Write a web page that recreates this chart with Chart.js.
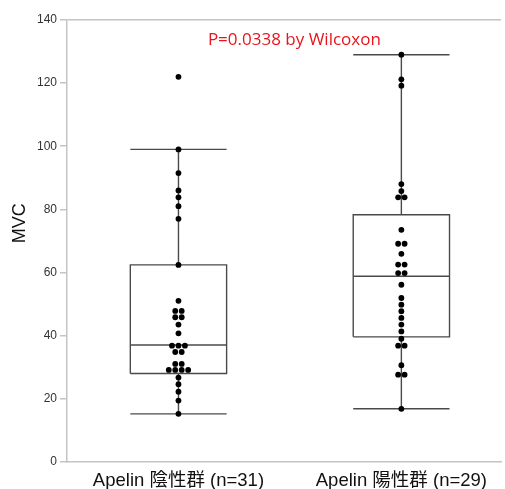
<!DOCTYPE html>
<html>
<head>
<meta charset="utf-8">
<script src="https://cdn.jsdelivr.net/npm/chart.js@4.4.1/dist/chart.umd.min.js"></script>
<style>
  html, body { margin: 0; padding: 0; background: #fff; }
  #wrap { width: 505px; height: 489px; }
</style>
</head>
<body>
<div id="wrap"><canvas id="boxChart"></canvas></div>
<script>
// groups
const groupLabels = ["Apelin 陰性群 (n=31)", "Apelin 陽性群 (n=29)"];
const groupPos = [0.5, 1.5];

// MVC values
const negValues = [122, 99, 91.5, 86, 83.8, 81, 77, 62.4, 51, 47.8, 47.8, 45.8, 45.8,
  43.5, 40.7, 36.8, 36.8, 36.8, 34.8, 34.8, 31, 31, 29.1, 29.1, 29.1, 29.1,
  26.7, 24.6, 22.2, 19.4, 15.2];
const posValues = [129, 121.2, 119.2, 88, 85.8, 83.8, 83.8, 73.5, 69.1, 69.1, 65.9,
  62.5, 62.5, 59.8, 59.8, 56.1, 51.9, 49.8, 47.7, 45.6, 43.5, 41.3, 39, 36.8, 36.8,
  30.6, 27.6, 27.6, 16.8];

// box stats [lower whisker, q1, median, q3, upper whisker]
const negStats = [15.2, 28, 37, 62.4, 99];
const posStats = [16.8, 39.6, 58.8, 78.3, 129];

const yTicks = [0, 20, 40, 60, 80, 100, 120, 140];
const yTitle = "MVC";
const pText = "P=0.0338 by Wilcoxon";

const BOX_HALF = 0.216;
const DOT_STEP = 0.029;
const LINE = "#4a4a4a";
const FRAME = "#c4c4c4";

// stack equal values side by side
function swarm(values, center) {
  const counts = {};
  values.forEach(v => { counts[v] = (counts[v] || 0) + 1; });
  const seen = {};
  return values.map(v => {
    const i = seen[v] || 0;
    seen[v] = i + 1;
    return { x: center + (i - (counts[v] - 1) / 2) * DOT_STEP, y: v };
  });
}

function boxLines(stats, c) {
  const [lo, q1, med, q3, hi] = stats;
  const l = c - BOX_HALF, r = c + BOX_HALF;
  return [
    [{ x: l, y: q1 }, { x: r, y: q1 }, { x: r, y: q3 }, { x: l, y: q3 }, { x: l, y: q1 }],
    [{ x: l, y: med }, { x: r, y: med }],
    [{ x: c, y: q3 }, { x: c, y: hi }],
    [{ x: c, y: lo }, { x: c, y: q1 }],
    [{ x: l, y: hi }, { x: r, y: hi }],
    [{ x: l, y: lo }, { x: r, y: lo }],
  ];
}

const datasets = [
  {
    label: "dots",
    data: swarm(negValues, groupPos[0]).concat(swarm(posValues, groupPos[1])),
    backgroundColor: "#000",
    borderWidth: 0,
    pointRadius: 2.9,
    showLine: false,
    order: 0,
  },
];
[negStats, posStats].forEach((s, gi) => {
  boxLines(s, groupPos[gi]).forEach(seg => {
    datasets.push({
      data: seg,
      showLine: true,
      borderColor: LINE,
      borderWidth: 1.4,
      pointRadius: 0,
      fill: false,
      order: 1,
    });
  });
});

// p-value note and the y title (drawn a bit above the axis middle like the original)
const textBits = {
  id: "textBits",
  afterDatasetsDraw(chart) {
    const { ctx, scales } = chart;
    ctx.save();
    ctx.fillStyle = "#e8141b";
    ctx.font = "17px 'Open Sans', 'Liberation Sans', sans-serif";
    ctx.textAlign = "center";
    ctx.textBaseline = "middle";
    ctx.fillText(pText, scales.x.getPixelForValue(1.02), scales.y.getPixelForValue(133.5));

    ctx.fillStyle = "#111";
    ctx.font = "18px 'Liberation Sans', sans-serif";
    ctx.translate(20, scales.y.getPixelForValue(75.6));
    ctx.rotate(-Math.PI / 2);
    ctx.fillText(yTitle, 0, 0);
    ctx.restore();
  },
};

new Chart(document.getElementById("boxChart"), {
  type: "scatter",
  data: { datasets },
  options: {
    responsive: true,
    maintainAspectRatio: false,
    animation: false,
    layout: { padding: { top: 20, right: 0, bottom: -11, left: 34 } },
    plugins: { legend: { display: false }, tooltip: { enabled: false } },
    scales: {
      x: {
        type: "linear",
        min: 0,
        max: 1.947,
        afterBuildTicks: scale => {
          scale.ticks = groupPos.map(v => ({ value: v }));
        },
        ticks: {
          color: "#111",
          font: { size: 18.5, family: "'Liberation Sans', 'Noto Sans CJK JP', sans-serif" },
          padding: 8,
          maxRotation: 0,
          callback: v => groupLabels[groupPos.indexOf(v)],
        },
        grid: { color: "transparent", drawTicks: false },
        border: { color: FRAME, width: 1.5 },
      },
      y: {
        min: 0,
        max: 140,
        afterBuildTicks: scale => {
          scale.ticks = yTicks.map(v => ({ value: v }));
        },
        ticks: {
          color: "#333",
          font: { size: 12, family: "'Liberation Sans', sans-serif" },
          padding: 3,
        },
        grid: {
          color: c => (c.tick && c.tick.value === 140 ? FRAME : "transparent"),
          tickColor: FRAME,
          tickLength: 7,
          lineWidth: 1.5,
        },
        border: { color: FRAME, width: 1.5 },
      },
    },
  },
  plugins: [textBits],
});
</script>
</body>
</html>
